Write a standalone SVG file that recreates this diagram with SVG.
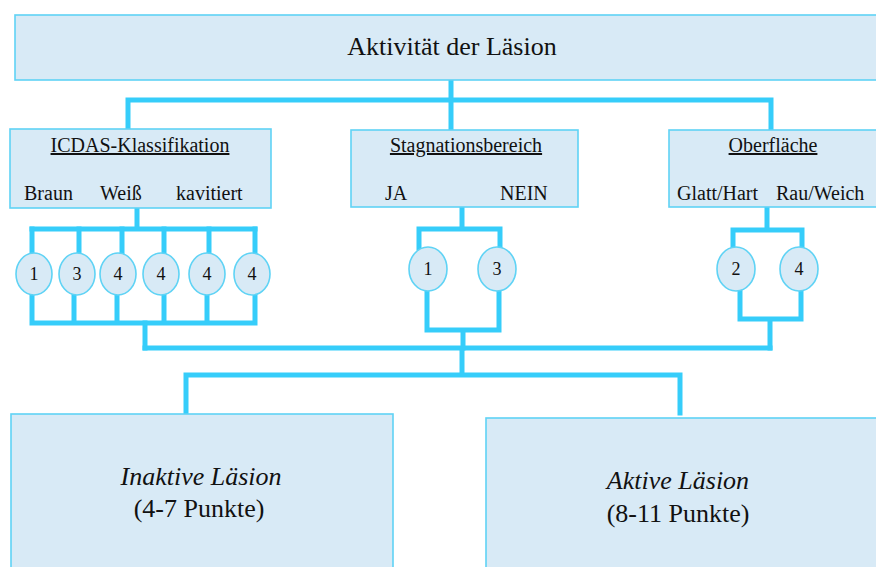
<svg xmlns="http://www.w3.org/2000/svg" width="876" height="567" viewBox="0 0 876 567">
  <style>
    .box { fill: #d8eaf6; stroke: #5fd3f5; stroke-width: 1.6; }
    .dot { fill: #d8eaf6; stroke: #5fd3f5; stroke-width: 1.6; }
    .wire { fill: none; stroke: #36cdfa; stroke-width: 5; stroke-linejoin: miter; stroke-linecap: square; }
    text { fill: #111; }
    .title { font-size: 26px; text-anchor: middle; }
    .head { font-size: 20px; text-anchor: middle; text-decoration: underline; }
    .opt { font-size: 20px; }
    .num { font-size: 18px; text-anchor: middle; }
    .res { font-size: 26px; text-anchor: middle; }
    .it { font-style: italic; }
  </style>

  <!-- connectors -->
  <g id="connectors" class="wire">
    <!-- root to the three criteria -->
    <path d="M451,80 V100 M128,100 H771 M128,100 V129 M451,100 V130 M771,100 V130"/>
    <!-- ICDAS branches -->
    <path d="M137,208 V229 M32,229 H255"/>
    <path d="M32,229 V254 M79,229 V254 M122,229 V254 M164,229 V254 M209,229 V254 M255,229 V254"/>
    <path d="M32,294 V323 M74,294 V323 M117,294 V323 M164,294 V323 M207,294 V323 M255,294 V323 M32,323 H255"/>
    <path d="M145,323 V348"/>
    <!-- Stagnation branches -->
    <path d="M462,207 V229 M419,229 H500 M419,229 V248 M500,229 V248"/>
    <path d="M427,290 V330 M499,290 V330 M427,330 H499 M463,330 V348"/>
    <!-- surface branches -->
    <path d="M767,207 V230 M733,230 H802 M733,230 V248 M802,230 V248"/>
    <path d="M740,290 V319 M801,290 V319 M740,319 H801 M770,319 V348"/>
    <!-- collector to results -->
    <path d="M145,348 H770 M462,348 V375 M186,375 H680 M186,375 V413 M680,375 V413"/>
  </g>

  <g font-family="Liberation Serif, DejaVu Serif, serif">
  <!-- root -->
  <g id="root">
    <rect class="box" x="15" y="15" width="880" height="65"/>
    <text class="title" x="452" y="55">Aktivität der Läsion</text>
  </g>

  <!-- ICDAS classification -->
  <g id="icdas">
    <rect class="box" x="10" y="129" width="261" height="79"/>
    <text class="head" x="140" y="152">ICDAS-Klassifikation</text>
    <text class="opt" x="24" y="200">Braun</text>
    <text class="opt" x="100" y="200">Weiß</text>
    <text class="opt" x="176" y="200">kavitiert</text>
  </g>
  <g id="icdas-1"><ellipse class="dot" cx="34" cy="274" rx="18" ry="21"/><text class="num" x="34" y="280">1</text></g>
  <g id="icdas-3"><ellipse class="dot" cx="77" cy="274" rx="18" ry="21"/><text class="num" x="77" y="280">3</text></g>
  <g id="icdas-4a"><ellipse class="dot" cx="118" cy="274" rx="18" ry="21"/><text class="num" x="118" y="280">4</text></g>
  <g id="icdas-4b"><ellipse class="dot" cx="161" cy="274" rx="18" ry="21"/><text class="num" x="161" y="280">4</text></g>
  <g id="icdas-4c"><ellipse class="dot" cx="207" cy="274" rx="18" ry="21"/><text class="num" x="207" y="280">4</text></g>
  <g id="icdas-4d"><ellipse class="dot" cx="252" cy="274" rx="18" ry="21"/><text class="num" x="252" y="280">4</text></g>

  <!-- stagnation area -->
  <g id="stagnation">
    <rect class="box" x="351" y="130" width="227" height="77"/>
    <text class="head" x="466" y="152">Stagnationsbereich</text>
    <text class="opt" x="385" y="200">JA</text>
    <text class="opt" x="500" y="200">NEIN</text>
  </g>
  <g id="stag-1"><ellipse class="dot" cx="428" cy="269" rx="19" ry="22"/><text class="num" x="428" y="275">1</text></g>
  <g id="stag-3"><ellipse class="dot" cx="497" cy="269" rx="19" ry="22"/><text class="num" x="497" y="275">3</text></g>

  <!-- surface -->
  <g id="surface">
    <rect class="box" x="669" y="130" width="220" height="77"/>
    <text class="head" x="773" y="152">Oberfläche</text>
    <text class="opt" x="677" y="200">Glatt/Hart</text>
    <text class="opt" x="776" y="200">Rau/Weich</text>
  </g>
  <g id="surf-2"><ellipse class="dot" cx="736" cy="269" rx="19" ry="22"/><text class="num" x="736" y="275">2</text></g>
  <g id="surf-4"><ellipse class="dot" cx="799" cy="269" rx="19" ry="22"/><text class="num" x="799" y="275">4</text></g>

  <!-- outcomes -->
  <g id="inactive">
    <rect class="box" x="11" y="414" width="382" height="170"/>
    <text class="res it" x="201" y="485">Inaktive Läsion</text>
    <text class="res" x="199" y="517">(4-7 Punkte)</text>
  </g>
  <g id="active">
    <rect class="box" x="486" y="418" width="400" height="170"/>
    <text class="res it" x="678" y="489">Aktive Läsion</text>
    <text class="res" x="678" y="522">(8-11 Punkte)</text>
  </g>
  </g>
</svg>
